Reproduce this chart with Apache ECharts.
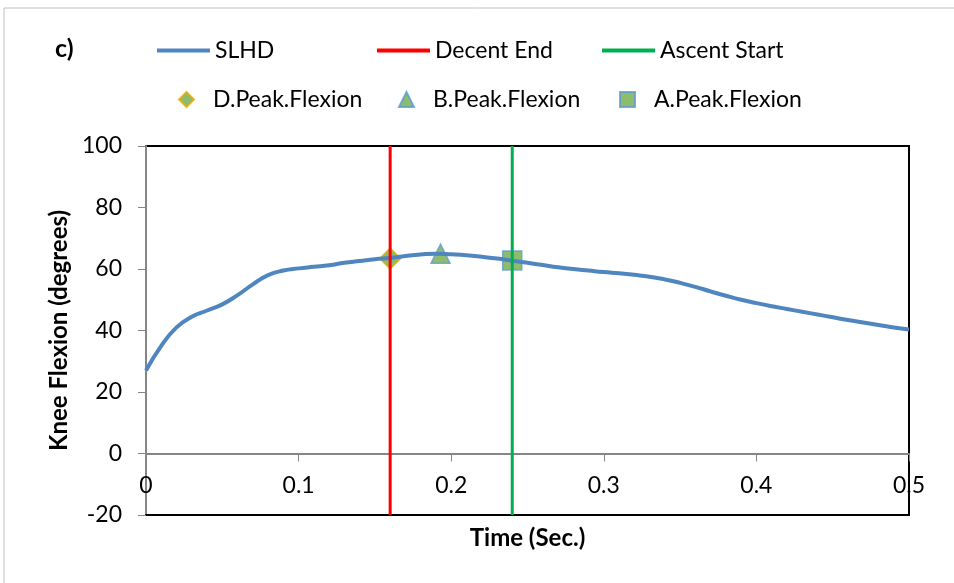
<!DOCTYPE html>
<html>
<head>
<meta charset="UTF-8">
<title>Knee Flexion</title>
<script src="https://cdn.jsdelivr.net/npm/echarts@6/dist/echarts.min.js"></script>
</head>
<body style="margin:0">
	<div id="main" style="width:954px;height:583px;"></div>
	<script type="text/javascript">
		// data
		var timeSec = [0,0.01,0.02,0.03,0.04,0.05,0.06,0.07,0.08,0.09,
			0.10,0.11,0.12,0.13,0.14,0.15,0.16,0.17,0.18,0.19,
			0.20,0.21,0.22,0.23,0.24,0.25,0.26,0.27,0.28,0.29,
			0.30,0.31,0.32,0.33,0.34,0.35,0.36,0.37,0.38,0.39,
			0.40,0.41,0.42,0.43,0.44,0.45,0.46,0.47,0.48,0.49,0.50];
		var slhd = [27,35,41,44.5,46.5,48.5,51.5,55,58,59.5,
			60.2,60.7,61.2,62,62.6,63.2,63.6,64.2,64.7,65,
			64.8,64.5,64,63.4,62.7,62,61.3,60.6,60,59.5,
			59,58.6,58.1,57.5,56.6,55.5,54.2,52.7,51.3,50,
			48.9,47.9,47,46.1,45.2,44.3,43.4,42.6,41.8,41,40.3];
		var decentEnd = 0.16;
		var ascentStart = 0.24;
		var dPeak = [0.16, 63.4];
		var bPeak = [0.193, 65];
		var aPeak = [0.24, 62.8];
		var yRange = [-20, 100];

		var font = 'Lato, "Open Sans", sans-serif';
		var myChart = echarts.init(document.getElementById('main'));

		var lineData = timeSec.map(function (t, i) { return [t, slhd[i]]; });

		// line legend: flat bar icon
		function lineLegend(name, left) {
			return {
				data: [{ name: name, icon: 'rect' }],
				left: left,
				top: 34,
				itemWidth: 53,
				itemHeight: 4,
				textStyle: { fontFamily: font, fontSize: 23, color: '#000' },
				selectedMode: false
			};
		}
		// marker legend: small symbol, text pushed right
		function markLegend(name, left) {
			return {
				data: [name],
				left: left,
				top: 83,
				itemWidth: 15,
				itemHeight: 15,
				textStyle: { fontFamily: font, fontSize: 23, color: '#000', padding: [0, 0, 0, 14] },
				selectedMode: false
			};
		}

		var option = {
			animation: false,
			title: {
				text: 'c)',
				left: 50,
				top: 31,
				textStyle: { fontFamily: font, fontSize: 25, fontWeight: 'bold', color: '#000' }
			},
			legend: [
				lineLegend('SLHD', 152),
				lineLegend('Decent End', 372),
				lineLegend('Ascent Start', 597),
				markLegend('D.Peak.Flexion', 173),
				markLegend('B.Peak.Flexion', 393),
				markLegend('A.Peak.Flexion', 614)
			],
			graphic: [{
				type: 'rect',
				shape: { x: 4, y: 8, width: 1000, height: 700 },
				style: { fill: 'none', stroke: '#bfbfbf', lineWidth: 1 },
				silent: true
			}],
			grid: {
				left: 146,
				right: 45,
				top: 146,
				bottom: 68,
				outerBoundsMode: 'none',
				containLabel: false,
				show: true,
				borderColor: '#000',
				borderWidth: 2
			},
			xAxis: [
				{
					// bottom edge, carries the title only
					type: 'value',
					min: 0,
					max: 0.5,
					interval: 0.1,
					position: 'bottom',
					name: 'Time (Sec.)',
					nameLocation: 'middle',
					nameGap: 11,
					nameTextStyle: { fontFamily: font, fontSize: 24, fontWeight: 'bold', color: '#000' },
					axisLine: { show: true, onZero: false, lineStyle: { color: '#000', width: 2 } },
					axisTick: { show: false },
					axisLabel: { show: false },
					splitLine: { show: false }
				},
				{
					// the zero line with ticks and labels
					type: 'value',
					min: 0,
					max: 0.5,
					interval: 0.1,
					position: 'bottom',
					offset: -61.5,
					axisLine: { show: true, onZero: false, lineStyle: { color: '#868686', width: 2 } },
					axisTick: { show: true, length: 8, lineStyle: { color: '#868686', width: 1 } },
					axisLabel: { margin: 21, fontFamily: font, fontSize: 23, color: '#000' },
					splitLine: { show: false }
				}
			],
			yAxis: {
				type: 'value',
				min: yRange[0],
				max: yRange[1],
				interval: 20,
				name: 'Knee Flexion (degrees)',
				nameLocation: 'middle',
				nameGap: 72,
				nameTextStyle: { fontFamily: font, fontSize: 24, fontWeight: 'bold', color: '#000' },
				axisLine: { show: true, onZero: false, lineStyle: { color: '#868686', width: 2 } },
				axisTick: { show: true, length: 8, lineStyle: { color: '#868686', width: 1 } },
				axisLabel: { margin: 24, fontFamily: font, fontSize: 23, color: '#000' },
				splitLine: { show: false }
			},
			series: [
				{
					name: 'SLHD',
					type: 'line',
					data: lineData,
					smooth: true,
					symbol: 'none',
					lineStyle: { color: '#4f86c0', width: 4 },
					itemStyle: { color: '#4f86c0' }
				},
				{
					name: 'Decent End',
					type: 'line',
					data: [[decentEnd, yRange[0]], [decentEnd, yRange[1]]],
					symbol: 'none',
					lineStyle: { color: '#ff0000', width: 3 },
					itemStyle: { color: '#ff0000' }
				},
				{
					name: 'Ascent Start',
					type: 'line',
					data: [[ascentStart, yRange[0]], [ascentStart, yRange[1]]],
					symbol: 'none',
					lineStyle: { color: '#00b050', width: 3 },
					itemStyle: { color: '#00b050' }
				},
				{
					name: 'D.Peak.Flexion',
					type: 'scatter',
					data: [dPeak],
					symbol: 'diamond',
					symbolSize: 21,
					itemStyle: { color: '#70ad47', borderColor: '#f0a800', borderWidth: 1.5 }
				},
				{
					name: 'B.Peak.Flexion',
					type: 'scatter',
					data: [bPeak],
					symbol: 'triangle',
					symbolSize: 19,
					itemStyle: { color: '#70ad47', borderColor: '#5b9bd5', borderWidth: 1.5 }
				},
				{
					name: 'A.Peak.Flexion',
					type: 'scatter',
					data: [aPeak],
					symbol: 'rect',
					symbolSize: 19,
					itemStyle: { color: '#70ad47', borderColor: '#5b9bd5', borderWidth: 1.5 }
				}
			]
		};
		myChart.setOption(option);
	</script>
</body>
</html>
